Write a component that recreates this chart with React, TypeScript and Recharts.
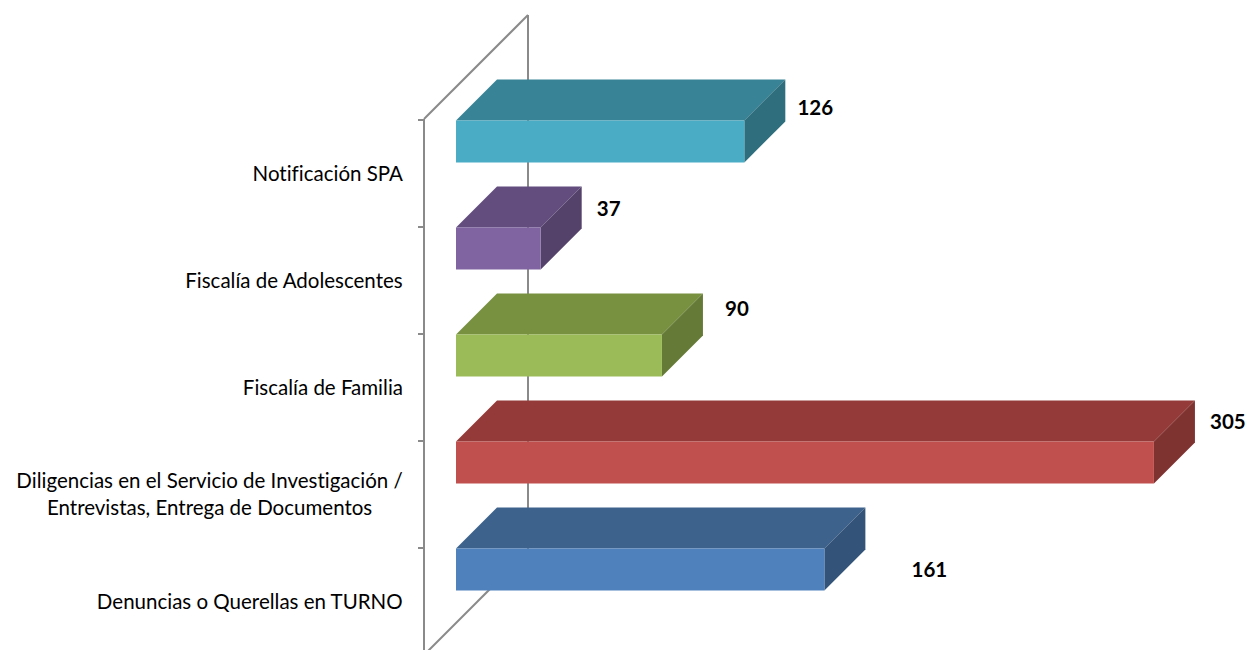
import { Bar, BarChart, XAxis, YAxis } from 'recharts'

// ─── Datos ────────────────────────────────────────────────────────────────────

const CATEGORIES = [
  'Notificación SPA',
  'Fiscalía de Adolescentes',
  'Fiscalía de Familia',
  'Diligencias en el Servicio de Investigación / Entrevistas, Entrega de Documentos',
  'Denuncias o Querellas en TURNO',
]

const VALUES = [126, 37, 90, 305, 161]

const chartData = CATEGORIES.map((name, i) => ({ name, value: VALUES[i] }))

// ─── Estilo ───────────────────────────────────────────────────────────────────

const FONT = 'Lato, "Open Sans", sans-serif'
const FONT_SIZE = 20.5

// colores de cada cara (frontal, superior, lateral) por barra
const FACE_COLORS = [
  { front: '#4BACC6', top: '#388396', side: '#2E6E7D' },
  { front: '#8064A2', top: '#634D7E', side: '#54426A' },
  { front: '#9BBB59', top: '#789141', side: '#657A37' },
  { front: '#C0504D', top: '#943B3A', side: '#7E3331' },
  { front: '#4F81BD', top: '#3D638D', side: '#335378' },
]

// desplazamiento de la etiqueta respecto al extremo frontal de la barra
const LABEL_NUDGE = [
  [71, -13],
  [68, -19],
  [75, -26],
  [74, -20],
  [105, 21],
]

const WIDTH = 1248
const HEIGHT = 650
const PLOT_TOP = 120
const BAND = 107
const PLOT_LEFT = 456
const DEPTH = 41
const BAR_SIZE = 42
const LABEL_RIGHT = 403
const WALL_X = 424
const WALL_BACK_X = 528
const WALL_COLOR = '#8a8a8a'

let measureCtx: CanvasRenderingContext2D | null = null
function measure(text: string): number {
  if (!measureCtx) {
    measureCtx = document.createElement('canvas').getContext('2d')
  }
  if (!measureCtx) return text.length * FONT_SIZE * 0.5
  measureCtx.font = `${FONT_SIZE}px ${FONT}`
  return measureCtx.measureText(text).width
}

function splitLabel(label: string): string[] {
  const idx = label.indexOf(' / ')
  if (idx < 0) return [label]
  return [label.slice(0, idx + 2), label.slice(idx + 3)]
}

// ─── Componentes ──────────────────────────────────────────────────────────────

function CategoryTick(props: any) {
  const { y, payload } = props
  const lines = splitLabel(String(payload.value))
  const maxW = Math.max(...lines.map(measure))
  const cx = LABEL_RIGHT - maxW / 2
  const lineH = 27
  return (
    <text
      textAnchor="middle"
      fontFamily={FONT}
      fontSize={FONT_SIZE}
      fill="#000"
      style={{ fontVariantLigatures: 'none' }}
    >
      {lines.map((line, i) => (
        <tspan key={i} x={cx} y={y + (i - (lines.length - 1) / 2) * lineH} dy="0.35em">
          {line}
        </tspan>
      ))}
    </text>
  )
}

function Bar3D(props: any) {
  const { x, y, width, height, index, value } = props
  const colors = FACE_COLORS[index % FACE_COLORS.length]
  // la cara frontal ocupa la parte superior de la banda
  const top = y - (BAND - BAR_SIZE) / 2
  const right = x + width
  const d = DEPTH
  const [dx, dy] = LABEL_NUDGE[index] ?? [72, -20]
  return (
    <g>
      <polygon
        points={`${x},${top} ${x + d},${top - d} ${right + d},${top - d} ${right},${top}`}
        fill={colors.top}
      />
      <polygon
        points={`${right},${top} ${right + d},${top - d} ${right + d},${top - d + height} ${right},${top + height}`}
        fill={colors.side}
      />
      <rect x={x} y={top} width={width} height={height} fill={colors.front} />
      <text
        x={right + dx}
        y={top + dy}
        dy="0.35em"
        textAnchor="middle"
        fontFamily={FONT}
        fontSize={FONT_SIZE}
        fontWeight="bold"
        fill="#000"
      >
        {value}
      </text>
    </g>
  )
}

function Walls() {
  const bottom = PLOT_TOP + BAND * CATEGORIES.length
  const ticks = Array.from({ length: CATEGORIES.length + 1 }, (_, i) => PLOT_TOP + i * BAND)
  const depth = WALL_BACK_X - WALL_X
  return (
    <svg
      width={WIDTH}
      height={HEIGHT}
      style={{ position: 'absolute', left: 0, top: 0 }}
    >
      <g stroke={WALL_COLOR} strokeWidth={2} fill="none">
        <line x1={WALL_X} y1={PLOT_TOP - 1} x2={WALL_X} y2={bottom} />
        <line x1={WALL_X} y1={PLOT_TOP - 1} x2={WALL_BACK_X} y2={PLOT_TOP - 1 - depth} />
        <line x1={WALL_BACK_X} y1={PLOT_TOP - 1 - depth} x2={WALL_BACK_X} y2={bottom - depth} />
        <line x1={WALL_X} y1={bottom} x2={WALL_BACK_X} y2={bottom - depth} />
        {ticks.map((t) => (
          <line key={t} x1={WALL_X - 6} y1={t} x2={WALL_X} y2={t} />
        ))}
      </g>
    </svg>
  )
}

export default function App() {
  return (
    <div
      style={{
        position: 'fixed',
        left: 0,
        top: 0,
        width: WIDTH,
        height: HEIGHT,
        overflow: 'hidden',
        background: '#fff',
      }}
    >
      <Walls />
      <div style={{ position: 'absolute', left: 0, top: 0 }}>
        <BarChart
          layout="vertical"
          width={WIDTH}
          height={PLOT_TOP + BAND * CATEGORIES.length}
          data={chartData}
          margin={{ top: PLOT_TOP, right: 14, bottom: 0, left: 0 }}
          barSize={BAR_SIZE}
        >
          <XAxis type="number" domain={[0, 340]} hide />
          <YAxis
            type="category"
            dataKey="name"
            width={PLOT_LEFT}
            axisLine={false}
            tickLine={false}
            tick={<CategoryTick />}
            interval={0}
          />
          <Bar dataKey="value" shape={<Bar3D />} isAnimationActive={false} />
        </BarChart>
      </div>
    </div>
  )
}
